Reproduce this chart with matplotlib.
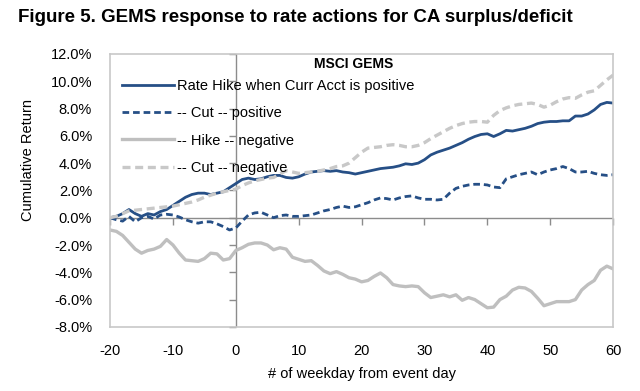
import matplotlib
matplotlib.use('Agg')
from matplotlib import pyplot as plt
from matplotlib import markers
import numpy as np

# event window, weekdays
days = list(range(-20, 61))

# cumulative returns (%)
hike_pos = [0.0, 0.1, 0.3, 0.6, 0.3, 0.1, 0.3, 0.2, 0.45, 0.6,
            0.9, 1.2, 1.5, 1.7, 1.8, 1.8, 1.7, 1.8, 1.9, 2.2,
            2.5, 2.8, 2.9, 2.8, 2.85, 3.0, 3.1, 3.1, 2.95, 2.9,
            3.0, 3.2, 3.35, 3.4, 3.45, 3.4, 3.45, 3.35, 3.3, 3.2,
            3.3, 3.4, 3.5, 3.6, 3.65, 3.7, 3.8, 3.95, 3.9, 4.0,
            4.25, 4.6, 4.8, 4.95, 5.1, 5.3, 5.5, 5.75, 5.95, 6.1,
            6.15, 5.95, 6.15, 6.4, 6.35, 6.45, 6.55, 6.7, 6.9, 7.0,
            7.05, 7.05, 7.1, 7.1, 7.45, 7.45, 7.6, 7.9, 8.3, 8.45,
            8.4]
cut_pos = [0.0, -0.15, -0.25, 0.1, -0.3, 0.0, 0.1, -0.1, 0.2, 0.25,
           0.2, 0.05, -0.15, -0.3, -0.4, -0.3, -0.3, -0.45, -0.65, -0.9,
           -0.75, -0.25, 0.2, 0.35, 0.4, 0.2, 0.0, 0.15, 0.2, 0.1,
           0.1, 0.15, 0.2, 0.35, 0.5, 0.6, 0.75, 0.85, 0.75, 0.8,
           0.95, 1.1, 1.3, 1.45, 1.4, 1.3, 1.45, 1.55, 1.6, 1.45,
           1.35, 1.35, 1.3, 1.35, 1.8, 2.15, 2.3, 2.4, 2.45, 2.45,
           2.4, 2.25, 2.2, 2.85, 3.0, 3.15, 3.25, 3.35, 3.15, 3.35,
           3.5, 3.6, 3.75, 3.6, 3.35, 3.35, 3.4, 3.25, 3.15, 3.1,
           3.15]
hike_neg = [-0.9, -1.0, -1.3, -1.8, -2.3, -2.6, -2.4, -2.3, -2.1, -1.6,
            -2.0, -2.6, -3.1, -3.15, -3.2, -3.0, -2.6, -2.65, -3.1, -3.0,
            -2.4, -2.2, -1.95, -1.85, -1.85, -2.0, -2.35, -2.2, -2.3, -2.9,
            -3.05, -3.2, -3.15, -3.5, -3.9, -4.1, -3.95, -4.15, -4.4, -4.5,
            -4.7, -4.6, -4.3, -4.05, -4.4, -4.9, -5.0, -5.05, -5.0, -5.05,
            -5.5, -5.85, -5.75, -5.65, -5.8, -5.65, -6.05, -5.85, -6.0, -6.3,
            -6.6, -6.55, -6.0, -5.75, -5.3, -5.1, -5.15, -5.4, -5.9, -6.45,
            -6.3, -6.15, -6.15, -6.15, -6.0, -5.3, -4.9, -4.6, -3.85, -3.55,
            -3.75]
cut_neg = [0.0, 0.1, 0.3, 0.5, 0.55, 0.6, 0.65, 0.7, 0.75, 0.8,
           0.85, 0.95, 1.05, 1.15, 1.3, 1.5, 1.65, 1.8, 1.9, 2.0,
           2.1, 2.35, 2.55, 2.7, 2.8, 2.9, 2.95, 3.2, 3.45, 3.35,
           3.25, 3.3, 3.35, 3.4, 3.5, 3.6, 3.75, 3.8, 4.0, 4.4,
           4.8, 5.1, 5.15, 5.2, 5.3, 5.35, 5.3, 5.2, 5.2, 5.3,
           5.5, 5.8, 6.05, 6.3, 6.55, 6.75, 6.9, 7.0, 7.05, 7.05,
           7.0, 7.5, 7.85, 8.05, 8.2, 8.3, 8.35, 8.4, 8.3, 8.1,
           8.25, 8.5, 8.7, 8.8, 8.75, 9.0, 9.2, 9.3, 9.7, 10.1,
           10.45]

labels = ['Rate Hike when Curr Acct is positive', '-- Cut -- positive',
          '-- Hike -- negative', '-- Cut -- negative']
x_ticks = [-20, -10, 0, 10, 20, 30, 40, 50, 60]
y_ticks = [-8, -6, -4, -2, 0, 2, 4, 6, 8, 10, 12]

plt.rcParams['font.family'] = ['Liberation Sans', 'DejaVu Sans']
plt.rcParams['axes.unicode_minus'] = False

navy = '#264f86'
grey = '#bfbfbf'
dgrey = '#c8c8c8'

fig = plt.figure(figsize=(6.4, 3.91), dpi=100)
ax = fig.add_axes([0.172, 0.164, 0.786, 0.698])

x = np.array(days)
ax.plot(x, hike_pos, color=navy, lw=2.0, label=labels[0])
ax.plot(x, cut_pos, color=navy, lw=2.0, ls=(0, (2.4, 1.4)), label=labels[1])
ax.plot(x, hike_neg, color=grey, lw=2.4, label=labels[2])
ax.plot(x, cut_neg, color=dgrey, lw=2.4, ls=(0, (2.4, 1.4)), label=labels[3])

ax.set_xlim(-20, 60)
ax.set_ylim(-8, 12)
ax.set_xticks(x_ticks)
ax.set_xticklabels([str(v) for v in x_ticks])
ax.set_yticks(y_ticks)
ax.set_yticklabels(['%.1f%%' % v for v in y_ticks])
ax.tick_params(length=0, labelsize=10.5, colors='black')
ax.tick_params(axis='y', pad=13)
ax.tick_params(axis='x', pad=12)
for s in ax.spines.values():
    s.set_color('#c8c8c8')
    s.set_linewidth(1.2)

# axes crossing at zero with small tick marks
ax.axhline(0, color='#8c8c8c', lw=1.0, zorder=1)
ax.axvline(0, color='#8c8c8c', lw=1.0, zorder=1)
ax.plot(x_ticks, [0] * len(x_ticks), ls='none', marker=markers.TICKDOWN,
        ms=5, mew=1.0, color='#8c8c8c', clip_on=False, zorder=1)
ax.plot([0] * len(y_ticks), y_ticks, ls='none', marker=markers.TICKLEFT,
        ms=5, mew=1.0, color='#8c8c8c', clip_on=False, zorder=1)

ax.legend(loc='upper left', bbox_to_anchor=(0.0, 0.95), frameon=False,
          fontsize=10.5, handlelength=3.6, handletextpad=0.2,
          labelspacing=0.9, borderaxespad=0.4)
ax.text(0.485, 0.965, 'MSCI GEMS', transform=ax.transAxes, ha='center',
        va='center', fontsize=10, fontweight='bold')

ax.set_xlabel('# of weekday from event day', fontsize=10.5, labelpad=7)
fig.text(0.044, 0.59, 'Cumulative Return', rotation=90, ha='center',
         va='center', fontsize=10.5)

fig.text(0.028, 0.955, 'Figure 5. GEMS response to rate actions for CA surplus/deficit',
         fontsize=13.5, fontweight='bold', ha='left', va='center',
         family=['Liberation Sans Narrow', 'Liberation Sans'])

fig.savefig('out.png', dpi=100)
